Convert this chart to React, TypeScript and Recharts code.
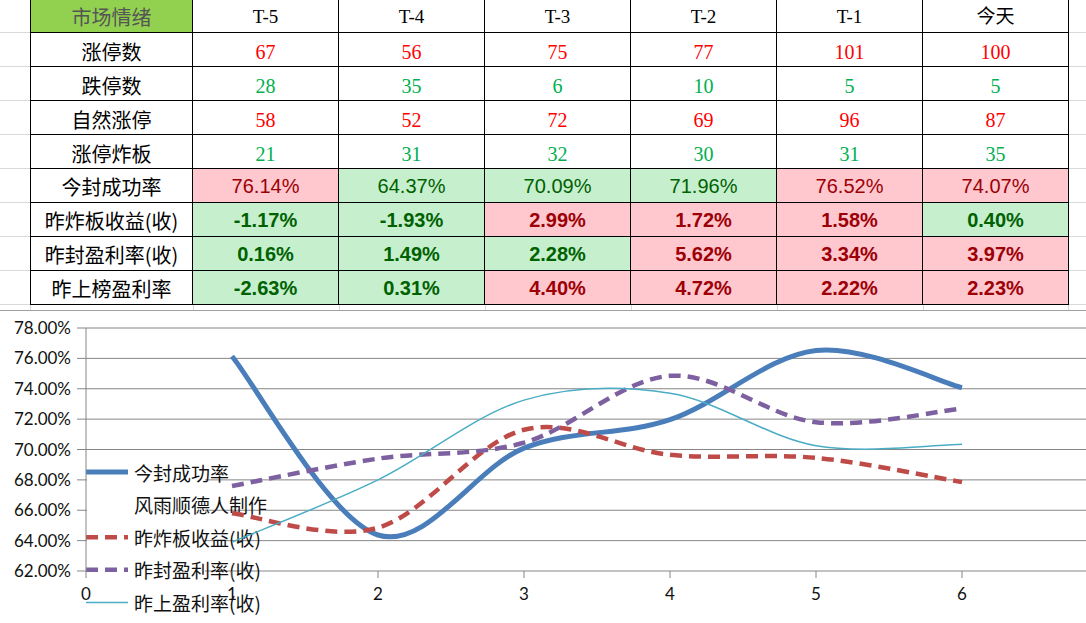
import React from 'react';
import { LineChart, Line, XAxis, YAxis, CartesianGrid } from 'recharts';

// ---------- table data ----------
const headerTitle = '市场情绪';
const days = ['T-5', 'T-4', 'T-3', 'T-2', 'T-1', '今天'];
const rowLabels = ['涨停数', '跌停数', '自然涨停', '涨停炸板', '今封成功率', '昨炸板收益(收)', '昨封盈利率(收)', '昨上榜盈利率'];
const limitUp = [67, 56, 75, 77, 101, 100];
const limitDown = [28, 35, 6, 10, 5, 5];
const naturalLimitUp = [58, 52, 72, 69, 96, 87];
const brokenBoards = [21, 31, 32, 30, 31, 35];
const sealSuccessRate = ['76.14%', '64.37%', '70.09%', '71.96%', '76.52%', '74.07%'];
const brokenReturn = ['-1.17%', '-1.93%', '2.99%', '1.72%', '1.58%', '0.40%'];
const sealProfit = ['0.16%', '1.49%', '2.28%', '5.62%', '3.34%', '3.97%'];
const listProfit = ['-2.63%', '0.31%', '4.40%', '4.72%', '2.22%', '2.23%'];
const sealSuccessTone = ['r', 'g', 'g', 'g', 'r', 'r'];
const brokenReturnTone = ['g', 'g', 'r', 'r', 'r', 'g'];
const sealProfitTone = ['g', 'g', 'g', 'r', 'r', 'r'];
const listProfitTone = ['g', 'g', 'r', 'r', 'r', 'r'];

// ---------- chart data ----------
const xPoints = [1, 2, 3, 4, 5, 6];
const seriesSeal = [76.14, 64.37, 70.09, 71.96, 76.52, 74.07];
const seriesBroken = [65.8, 64.85, 71.3, 69.65, 69.45, 67.85];
const seriesSealProfit = [67.6, 69.4, 70.45, 74.85, 71.8, 72.7];
const seriesList = [63.9, 68.0, 73.25, 73.7, 70.25, 70.35];
const yTicks = [62, 64, 66, 68, 70, 72, 74, 76, 78];
const xTicks = [0, 1, 2, 3, 4, 5, 6];
const legendNames = ['今封成功率', '风雨顺德人制作', '昨炸板收益(收)', '昨封盈利率(收)', '昨上盈利率(收)'];

const chartData = xPoints.map((x, i) => ({
  x,
  seal: seriesSeal[i],
  broken: seriesBroken[i],
  sealProfit: seriesSealProfit[i],
  list: seriesList[i],
}));

const legendStyles = [
  { stroke: '#4A7EBB', width: 5, dash: undefined },
  { stroke: 'none', width: 0, dash: undefined },
  { stroke: '#BE4B48', width: 4.5, dash: '12 7' },
  { stroke: '#7D60A0', width: 4.5, dash: '12 7' },
  { stroke: '#4BACC6', width: 1.5, dash: undefined },
];

// Excel-like smoothing (Catmull-Rom style Bezier)
function excelSmooth(context: any) {
  let pts: number[][] = [];
  return {
    areaStart() {},
    areaEnd() {},
    lineStart() {
      pts = [];
    },
    point(x: number, y: number) {
      pts.push([+x, +y]);
    },
    lineEnd() {
      const n = pts.length;
      if (!n) return;
      context.moveTo(pts[0][0], pts[0][1]);
      for (let i = 0; i < n - 1; i++) {
        const p0 = pts[Math.max(i - 1, 0)];
        const p1 = pts[i];
        const p2 = pts[i + 1];
        const p3 = pts[Math.min(i + 2, n - 1)];
        context.bezierCurveTo(
          p1[0] + (p2[0] - p0[0]) / 6,
          p1[1] + (p2[1] - p0[1]) / 6,
          p2[0] - (p3[0] - p1[0]) / 6,
          p2[1] - (p3[1] - p1[1]) / 6,
          p2[0],
          p2[1]
        );
      }
    },
  };
}

const CJK = '"Noto Sans CJK SC", "Noto Sans", sans-serif';
const SERIF = '"Liberation Serif", "Noto Sans CJK SC", serif';
const SANS = '"Liberation Sans", Arial, sans-serif';

const COL_LEFT = [30, 193, 339, 485, 631, 777, 923];
const COL_W = [163, 146, 146, 146, 146, 146, 146];
const ROW_H = 34;

function Cell({ r, c, bg, color, font, size, weight, padTop, children }: any) {
  return (
    <div
      style={{
        position: 'absolute',
        left: COL_LEFT[c],
        top: r * ROW_H - 1,
        width: COL_W[c],
        height: ROW_H,
        boxSizing: 'border-box',
        borderRight: '1px solid #000',
        borderBottom: '1px solid #000',
        borderLeft: c === 0 ? '1px solid #000' : undefined,
        background: bg || '#fff',
        color: color || '#000',
        fontFamily: font,
        fontSize: size,
        fontWeight: weight || 400,
        display: 'flex',
        alignItems: 'center',
        justifyContent: 'center',
        whiteSpace: 'nowrap',
        lineHeight: 1,
        paddingTop: padTop || 0,
      }}
    >
      {children}
    </div>
  );
}

function ChartLegend() {
  const top = 162;
  const step = 32.6;
  return (
    <g className="chart-legend">
      <rect x={87} y={145} width={118} height={168} fill="#fff" />
      {legendNames.map((name, i) => {
        const s = legendStyles[i];
        const y = top + i * step;
        return (
          <g key={name}>
            {s.stroke !== 'none' && (
              <line x1={86} x2={128} y1={y} y2={y} stroke={s.stroke} strokeWidth={s.width} strokeDasharray={s.dash} />
            )}
            <text x={134} y={y} dominantBaseline="central" fontSize={19} fontFamily={CJK} fill="#111">
              {name}
            </text>
          </g>
        );
      })}
    </g>
  );
}

export default function App() {
  const numberRows = [
    { vals: limitUp, color: '#FF0000' },
    { vals: limitDown, color: '#00B050' },
    { vals: naturalLimitUp, color: '#FF0000' },
    { vals: brokenBoards, color: '#00B050' },
  ];
  const pctRows = [
    { vals: sealSuccessRate, tones: sealSuccessTone, bold: false },
    { vals: brokenReturn, tones: brokenReturnTone, bold: true },
    { vals: sealProfit, tones: sealProfitTone, bold: true },
    { vals: listProfit, tones: listProfitTone, bold: true },
  ];
  const gridYs = Array.from({ length: 10 }, (_, i) => i * ROW_H + 32);
  const gridXs = [...COL_LEFT, 1068];

  return (
    <div
      style={{
        position: 'fixed',
        left: 0,
        top: 0,
        width: 1086,
        height: 623,
        overflow: 'hidden',
        background: '#fff',
      }}
    >
      {/* spreadsheet gridlines */}
      {gridYs.map((y) => (
        <div key={'h' + y} style={{ position: 'absolute', left: 0, top: y, width: 1086, height: 1, background: '#D9D9D9' }} />
      ))}
      {gridXs.map((x) => (
        <div key={'v' + x} style={{ position: 'absolute', left: x, top: 0, width: 1, height: 310, background: '#D9D9D9' }} />
      ))}

      {/* header */}
      <Cell r={0} c={0} bg="#92D050" color="#555" font={CJK} size={20} padTop={2}>
        {headerTitle}
      </Cell>
      {days.map((d, i) => (
        <Cell key={d} r={0} c={i + 1} font={SERIF} size={19} padTop={2}>
          {d}
        </Cell>
      ))}
      {rowLabels.map((l, r) => (
        <Cell key={l} r={r + 1} c={0} font={CJK} size={20} padTop={r < 4 ? 4 : 2}>
          {l}
        </Cell>
      ))}
      {numberRows.map((row, r) =>
        row.vals.map((v, i) => (
          <Cell key={r + '-' + i} r={r + 1} c={i + 1} font={SERIF} size={20} color={row.color} padTop={4}>
            {v}
          </Cell>
        ))
      )}
      {pctRows.map((row, r) =>
        row.vals.map((v, i) => (
          <Cell
            key={'p' + r + '-' + i}
            r={r + 5}
            c={i + 1}
            font={SANS}
            size={20}
            weight={row.bold ? 700 : 400}
            bg={row.tones[i] === 'r' ? '#FFC7CE' : '#C6EFCE'}
            color={row.tones[i] === 'r' ? '#9C0006' : '#006100'}
            padTop={1}
          >
            {v}
          </Cell>
        ))
      )}

      {/* chart */}
      <div style={{ position: 'absolute', left: 0, top: 310, width: 1086, height: 313, background: '#fff', overflow: 'hidden' }}>
        <div style={{ position: 'absolute', left: 0, top: 0, width: 1086, height: 1, background: '#A0A0A0' }} />
        <LineChart width={1120} height={313} data={chartData} margin={{ top: 18, right: 12, bottom: 22, left: 0 }}>
          <CartesianGrid vertical={false} stroke="#868686" strokeWidth={1} />
          <YAxis
            type="number"
            domain={[62, 78]}
            ticks={yTicks}
            interval={0}
            width={86}
            tickSize={9}
            tickMargin={6}
            axisLine={{ stroke: '#868686' }}
            tickLine={{ stroke: '#868686' }}
            tick={{ fill: '#111', fontSize: 17, fontFamily: 'Lato, "Open Sans", sans-serif' }}
            tickFormatter={(v: number) => v.toFixed(2) + '%'}
          />
          <ChartLegend />
          <XAxis
            dataKey="x"
            type="number"
            domain={[0, 7]}
            ticks={xTicks}
            interval={0}
            height={30}
            tickSize={7}
            tickMargin={10}
            axisLine={false}
            tickLine={{ stroke: '#868686' }}
            tick={{ fill: '#111', fontSize: 17, fontFamily: 'Lato, "Open Sans", sans-serif' }}
            allowDataOverflow
          />
          <Line dataKey="seal" name={legendNames[0]} type={excelSmooth as any} stroke="#4A7EBB" strokeWidth={5} dot={false} isAnimationActive={false} />
          <Line dataKey="broken" name={legendNames[2]} type={excelSmooth as any} stroke="#BE4B48" strokeWidth={4.5} strokeDasharray="12 7" dot={false} isAnimationActive={false} />
          <Line dataKey="sealProfit" name={legendNames[3]} type={excelSmooth as any} stroke="#7D60A0" strokeWidth={4.5} strokeDasharray="12 7" dot={false} isAnimationActive={false} />
          <Line dataKey="list" name={legendNames[4]} type={excelSmooth as any} stroke="#4BACC6" strokeWidth={1.5} dot={false} isAnimationActive={false} />
        </LineChart>
      </div>
    </div>
  );
}
